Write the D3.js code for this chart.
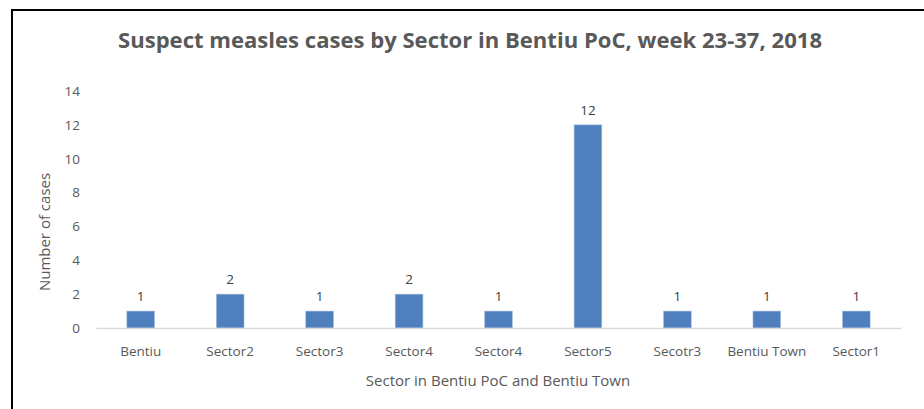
<!DOCTYPE html>
<html>
<head>
<meta charset="utf-8">
<script src="https://cdn.jsdelivr.net/npm/d3@7"></script>
<style>
  body { margin: 0; background: #fff; }
  text { font-family: "Open Sans", "Liberation Sans", sans-serif; }
</style>
</head>
<body>
<svg class="chart"></svg>
<script>
let sectors = ["Bentiu", "Sector2", "Sector3", "Sector4", "Sector4 ", "Sector5", "Secotr3", "Bentiu Town", "Sector1"];
let cases = [1, 2, 1, 2, 1, 12, 1, 1, 1];
let yTicks = [0, 2, 4, 6, 8, 10, 12, 14];

let svgWidth = 924, svgHeight = 409;
let margin = { top: 91, left: 96, right: 23, bottom: 81 };
let textColor = "#595959";

let svg = d3.select('.chart')
    .attr("width", svgWidth)
    .attr("height", svgHeight);

// frame (right and bottom are cut off in the original)
svg.append("path")
    .attr("d", "M12," + svgHeight + "V10H" + svgWidth)
    .attr("fill", "none")
    .attr("stroke", "#000")
    .attr("stroke-width", 2);

let x = d3.scaleBand()
    .domain(sectors)
    .range([margin.left, svgWidth - margin.right])
    .paddingInner(0.69)
    .paddingOuter(0.345);

let y = d3.scaleLinear()
    .domain([0, 14])
    .range([svgHeight - margin.bottom, margin.top]);

svg.append("text")
    .attr("x", 470)
    .attr("y", 48)
    .attr("text-anchor", "middle")
    .style("font-size", "21px")
    .style("font-weight", "bold")
    .attr("fill", textColor)
    .attr("textLength", 704)
    .attr("lengthAdjust", "spacingAndGlyphs")
    .text("Suspect measles cases by Sector in Bentiu PoC, week 23-37, 2018");

// y axis labels
let yAxis = svg.append("g")
    .attr("transform", "translate(" + margin.left + ",0)")
    .call(d3.axisLeft(y).tickValues(yTicks).tickSize(0).tickPadding(16));
yAxis.select(".domain").remove();
yAxis.selectAll("text")
    .style("font-size", "13.5px")
    .attr("fill", textColor);

// bars
svg.selectAll("rect")
    .data(cases)
    .enter()
    .append("rect")
    .attr("x", function (d, i) { return x(sectors[i]); })
    .attr("y", function (d) { return y(d); })
    .attr("width", x.bandwidth())
    .attr("height", function (d) { return y(0) - y(d); })
    .attr("fill", "#4f7fbd")
    .attr("stroke", "#a9c1e0")
    .attr("stroke-width", 0.6);

// value labels
svg.selectAll(".val")
    .data(cases)
    .enter()
    .append("text")
    .attr("class", "val")
    .attr("x", function (d, i) { return x(sectors[i]) + x.bandwidth() / 2; })
    .attr("y", function (d) { return y(d) - 10; })
    .attr("text-anchor", "middle")
    .style("font-size", "13.5px")
    .attr("fill", "#404040")
    .text(function (d) { return d; });

// x axis
let xAxis = svg.append("g")
    .attr("transform", "translate(0," + y(0) + ")")
    .call(d3.axisBottom(x).tickSize(0).tickPadding(18).tickSizeOuter(0));
xAxis.select(".domain")
    .attr("stroke", "#d9d9d9")
    .attr("stroke-width", 1.5);
xAxis.selectAll("text")
    .style("font-size", "13.5px")
    .attr("fill", textColor);

svg.append("text")
    .attr("x", 498)
    .attr("y", 386)
    .attr("text-anchor", "middle")
    .style("font-size", "15px")
    .attr("fill", textColor)
    .text("Sector in Bentiu PoC and Bentiu Town");

svg.append("text")
    .attr("transform", "translate(50,232) rotate(-90)")
    .attr("text-anchor", "middle")
    .style("font-size", "15px")
    .attr("fill", textColor)
    .text("Number of cases");
</script>
</body>
</html>
